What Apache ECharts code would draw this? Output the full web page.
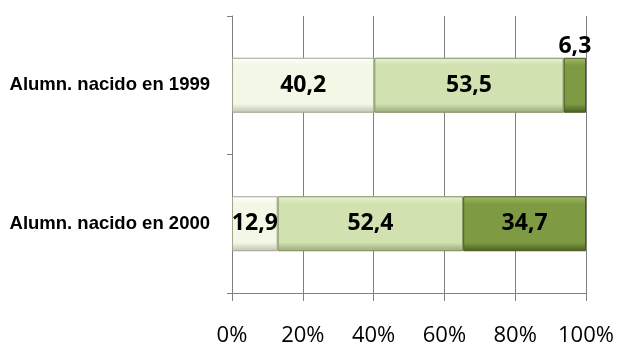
<!DOCTYPE html>
<html>
<head>
<meta charset="utf-8">
<script src="https://cdn.jsdelivr.net/npm/echarts@6/dist/echarts.min.js"></script>
<style>
html,body{margin:0;padding:0;background:#fff;}
#chart{width:618px;height:347px;}
</style>
</head>
<body>
<div id="chart"></div>
<script>
var categories = ['Alumn. nacido en 1999', 'Alumn. nacido en 2000'];
var serie1 = [40.2, 12.9];
var serie2 = [53.5, 52.4];
var serie3 = [6.3, 34.7];
var xTicks = [0, 20, 40, 60, 80, 100];

function grad(top, face, bottom) {
  return new echarts.graphic.LinearGradient(0, 0, 0, 1, [
    {offset: 0, color: top},
    {offset: 0.14, color: face},
    {offset: 0.84, color: face},
    {offset: 1, color: bottom}
  ]);
}

var labelBase = {
  show: true,
  position: 'inside',
  color: '#000',
  fontFamily: 'Open Sans',
  fontWeight: 'bold',
  fontSize: 23,
  formatter: function (p) { return String(p.value).replace('.', ','); }
};

function mkSeries(name, values, color, border, topIdx) {
  return {
    name: name,
    type: 'bar',
    stack: 'total',
    barWidth: 55,
    data: values.map(function (v, i) {
      if (i === topIdx) {
        return {value: v, label: {position: 'top', distance: 0}};
      }
      return v;
    }),
    itemStyle: {color: color, borderColor: border, borderWidth: 1},
    label: labelBase
  };
}

var chart = echarts.init(document.getElementById('chart'));
chart.setOption({
  animation: false,
  grid: {left: 232, right: 32, top: 16, bottom: 51, containLabel: false},
  xAxis: {
    type: 'value',
    min: xTicks[0],
    max: xTicks[xTicks.length - 1],
    interval: 20,
    axisLine: {show: true, lineStyle: {color: '#808080', width: 1}},
    axisTick: {show: true, length: 8, lineStyle: {color: '#808080'}},
    splitLine: {show: true, lineStyle: {color: '#808080', width: 1}},
    axisLabel: {
      formatter: '{value}%',
      color: '#000',
      fontFamily: 'Open Sans',
      fontSize: 22,
      margin: 32
    }
  },
  yAxis: {
    type: 'category',
    data: categories,
    inverse: true,
    axisLine: {show: true, lineStyle: {color: '#808080', width: 1}},
    axisTick: {show: true, length: 5, lineStyle: {color: '#808080'}},
    axisLabel: {
      color: '#000',
      fontFamily: 'Liberation Sans',
      fontWeight: 'bold',
      fontSize: 18.5,
      margin: 22
    }
  },
  series: [
    mkSeries('s1', serie1, grad('#FFFFFF', '#F3F7E6', '#BFC3B0'), '#9FA68C', -1),
    mkSeries('s2', serie2, grad('#E9F1D7', '#D2E1B0', '#98A878'), '#7F905E', -1),
    mkSeries('s3', serie3, grad('#A2BA66', '#7E9A43', '#485D1F'), '#445820', 0)
  ]
});
</script>
</body>
</html>
